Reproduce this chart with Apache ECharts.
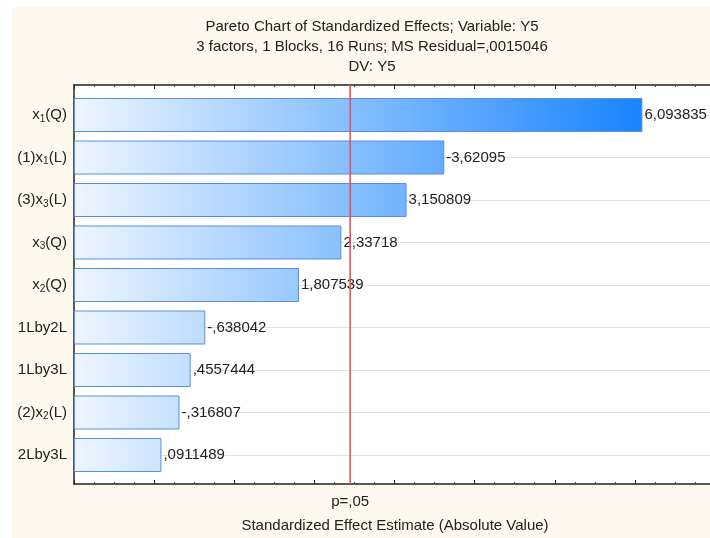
<!DOCTYPE html>
<html>
<head>
<meta charset="utf-8">
<script src="https://cdn.jsdelivr.net/npm/echarts@6/dist/echarts.min.js"></script>
<style>
  html, body { margin: 0; padding: 0; background: #fff; }
  #main { width: 710px; height: 538px; }
</style>
</head>
<body>
<div id="main"></div>
<script>
// effects (signed), bars use the absolute value
var categories = ['x1(Q)', '(1)x1(L)', '(3)x3(L)', 'x3(Q)', 'x2(Q)', '1Lby2L', '1Lby3L', '(2)x2(L)', '2Lby3L']
var effects = [6.093835, -3.62095, 3.150809, 2.33718, 1.807539, -0.638042, 0.4557444, -0.316807, 0.0911489]
var tCrit = 2.446912 // p=,05
var titleLines = [
  'Pareto Chart of Standardized Effects; Variable: Y5',
  '3 factors, 1 Blocks, 16 Runs; MS Residual=,0015046',
  'DV: Y5'
]
// the original plot runs a bit past the right edge of the picture
var xMin = -1
var xMax = 6.9375

var font = '"Liberation Sans", Arial, sans-serif'
var txt = '#222'
var fs = 15

// statistica style number: comma decimal, no leading zero
function fmt(v) {
  return String(v).replace('.', ',').replace(/^(-?)0,/, '$1,')
}

var mychart = echarts.init(document.getElementById('main'))

var axisCommon = {
  type: 'value',
  min: xMin,
  max: xMax,
  interval: 1,
  axisLabel: { show: false },
  splitLine: { show: false },
  axisLine: { show: true, onZero: false, lineStyle: { color: '#222', width: 1.5 } },
  axisTick: { show: true, inside: true, length: 4, lineStyle: { color: '#222' } },
  minorTick: { show: true, splitNumber: 4, length: 2, lineStyle: { color: '#444' } }
}

var option = {
  animation: false,
  backgroundColor: '#fff',
  textStyle: { fontFamily: font },
  title: {
    text: titleLines.join('\n'),
    left: 367,
    textAlign: 'center',
    top: 12,
    textStyle: { fontFamily: font, fontSize: fs, fontWeight: 'normal', color: txt, lineHeight: 20 }
  },
  grid: [
    { left: 74, top: 85, right: 0, bottom: 51, show: true, backgroundColor: '#fff', borderWidth: 0 },
    { left: 74, top: 115, right: 0, bottom: 83 }
  ],
  xAxis: [
    Object.assign({}, axisCommon, {
      gridIndex: 0,
      position: 'bottom',
      name: 'Standardized Effect Estimate (Absolute Value)',
      nameLocation: 'middle',
      nameGap: 34,
      nameTextStyle: { fontFamily: font, fontSize: fs, color: txt, padding: [0, 0, 0, 6] }
    }),
    Object.assign({}, axisCommon, { gridIndex: 0, position: 'top' }),
    { type: 'value', gridIndex: 1, min: xMin, max: xMax, startValue: xMin, show: false }
  ],
  yAxis: [
    {
      type: 'value', gridIndex: 0, min: 0, max: 1,
      axisLabel: { show: false },
      splitLine: { show: false },
      axisTick: { show: false },
      axisLine: { show: true, onZero: false, lineStyle: { color: '#222', width: 1.5 } }
    },
    {
      type: 'category',
      gridIndex: 1,
      data: categories,
      inverse: true,
      boundaryGap: false,
      axisLine: { show: false, onZero: false },
      axisTick: { show: true, inside: true, length: 4, lineStyle: { color: '#222' } },
      splitLine: { show: true, lineStyle: { color: '#e3e3e3', width: 1 } },
      axisLabel: {
        margin: 7,
        color: txt,
        fontFamily: font,
        fontSize: fs,
        formatter: function (v) {
          return v.replace(/x(\d)/, 'x{sub|$1}')
        },
        rich: {
          sub: { fontSize: 10, fontFamily: font, color: txt, verticalAlign: 'bottom', padding: [8, 0, 0, 0] }
        }
      }
    }
  ],
  series: [
    {
      type: 'bar',
      xAxisIndex: 2,
      yAxisIndex: 1,
      data: effects.map(function (v) { return Math.abs(v) }),
      barWidth: 34,
      clip: false,
      itemStyle: {
        color: new echarts.graphic.LinearGradient(74, 0, 643, 0, [
          { offset: 0, color: '#eef6ff' },
          { offset: 1, color: '#1884ff' }
        ], true),
        borderColor: '#5a8ee0',
        borderWidth: 1
      },
      label: {
        show: true,
        position: 'right',
        distance: 2,
        color: txt,
        fontFamily: font,
        fontSize: fs,
        formatter: function (p) { return fmt(effects[p.dataIndex]) }
      },
      z: 2
    },
    {
      type: 'line',
      xAxisIndex: 0,
      yAxisIndex: 0,
      data: [[tCrit, 0], [tCrit, 1]],
      symbol: 'none',
      lineStyle: { color: '#f04848', width: 1.5 },
      z: 5
    }
  ]
}
mychart.setOption(option)

// cream page behind the plot, and p=,05 under the critical line
var px = mychart.convertToPixel({ xAxisIndex: 0 }, tCrit)
mychart.setOption({
  graphic: [{
    type: 'rect',
    shape: { x: 12, y: 7, width: 710, height: 540 },
    style: { fill: '#fdf9ef' },
    z: -10,
    silent: true
  }, {
    type: 'text',
    x: px,
    y: 502,
    style: { text: 'p=,05', fontFamily: font, fontSize: fs, fill: txt, align: 'center', verticalAlign: 'middle' }
  }]
})
</script>
</body>
</html>
